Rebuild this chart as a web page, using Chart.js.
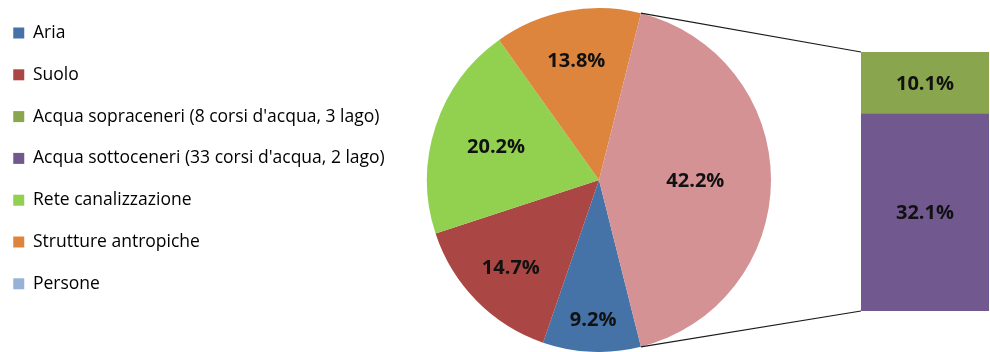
<!DOCTYPE html>
<html>
<head>
<meta charset="utf-8">
<script src="https://cdn.jsdelivr.net/npm/chart.js@4.4.1/dist/chart.umd.min.js"></script>
<style>
  body { margin: 0; background: #fff; }
  #wrap { position: relative; width: 990px; height: 352px; }
  #wrap canvas { position: absolute; left: 0; top: 0; }
</style>
</head>
<body>
<div id="wrap">
  <canvas id="pieChart" width="990" height="352"></canvas>
  <canvas id="barChart" width="990" height="352"></canvas>
</div>
<script>
// pie slices (clockwise after the split-off slice), values in %
const pieLabels = ['Aria', 'Suolo', 'Rete canalizzazione', 'Strutture antropiche', 'Persone'];
const pieValues = [9.2, 14.7, 20.2, 13.8, 0];
const pieColors = ['#4572A7', '#AA4643', '#92D050', '#DD843D', '#95B3D7'];

// water samples, shown in the stacked bar on the right
const barLabels = ["Acqua sopraceneri (8 corsi d'acqua, 3 lago)", "Acqua sottoceneri (33 corsi d'acqua, 2 lago)"];
const barValues = [10.1, 32.1];
const barColors = ['#89A54E', '#71588F'];

// legend order
const legendLabels = ['Aria', 'Suolo', barLabels[0], barLabels[1], 'Rete canalizzazione', 'Strutture antropiche', 'Persone'];
const legendColors = ['#4572A7', '#AA4643', '#89A54E', '#71588F', '#92D050', '#DD843D', '#95B3D7'];

const otherValue = barValues[0] + barValues[1];
const otherColor = '#D49294';

const allValues = pieValues.concat([otherValue]);
const total = allValues.reduce((a, b) => a + b, 0);
const before = pieValues.reduce((a, b) => a + b, 0);
// turn the pie so the water slice faces the bar
const rotation = 90 - (before + otherValue / 2) / total * 360;

const fmt = v => v.toFixed(1) + '%';
const labelFont = 'bold 20px "Open Sans"';

// radial position of each pie label (fraction of radius)
const labelRadius = [0.81, 0.72, 0.63, 0.71, 0.7, 0.56];

const pieLabelPlugin = {
  id: 'pieLabels',
  afterDatasetsDraw(chart) {
    const ctx = chart.ctx;
    const meta = chart.getDatasetMeta(0);
    ctx.save();
    ctx.font = labelFont;
    ctx.fillStyle = '#111';
    ctx.textAlign = 'center';
    ctx.textBaseline = 'middle';
    meta.data.forEach((arc, i) => {
      const v = allValues[i];
      if (!v) return;
      const a = (arc.startAngle + arc.endAngle) / 2;
      const r = arc.outerRadius * labelRadius[i];
      ctx.fillText(fmt(v), arc.x + Math.cos(a) * r, arc.y + Math.sin(a) * r + 1);
    });
    ctx.restore();
  }
};

const pieChart = new Chart(document.getElementById('pieChart'), {
  type: 'pie',
  data: {
    labels: pieLabels.concat(['Acqua']),
    datasets: [{
      data: allValues,
      backgroundColor: pieColors.concat([otherColor]),
      borderWidth: 0
    }]
  },
  options: {
    responsive: false,
    animation: false,
    events: [],
    rotation: rotation,
    layout: { padding: { left: -3, top: 8, bottom: -2, right: 184 } },
    plugins: {
      tooltip: { enabled: false },
      legend: {
        position: 'left',
        align: 'start',
        maxWidth: 395,
        labels: {
          boxWidth: 11,
          boxHeight: 11,
          padding: 16.25,
          color: '#1a1a1a',
          font: { family: '"Open Sans"', size: 17.5, lineHeight: 1.46 },
          generateLabels: () => legendLabels.map((t, i) => ({
            text: [t],
            fillStyle: legendColors[i],
            strokeStyle: legendColors[i],
            lineWidth: 0,
            hidden: false,
            index: i
          }))
        }
      }
    }
  },
  plugins: [pieLabelPlugin]
});

// bar values + lines joining the split slice to the bar
const barExtras = {
  id: 'barExtras',
  afterDatasetsDraw(chart) {
    const ctx = chart.ctx;
    ctx.save();
    ctx.font = labelFont;
    ctx.fillStyle = '#111';
    ctx.textAlign = 'center';
    ctx.textBaseline = 'middle';
    chart.data.datasets.forEach((ds, d) => {
      chart.getDatasetMeta(d).data.forEach((bar, i) => {
        const p = bar.getCenterPoint();
        ctx.fillText(fmt(ds.data[i]), p.x, p.y + 1);
      });
    });

    const arcs = pieChart.getDatasetMeta(0).data;
    const arc = arcs[arcs.length - 1];
    const low = chart.getDatasetMeta(0).data[0];
    const high = chart.getDatasetMeta(1).data[0];
    const left = low.x - low.width / 2;
    ctx.strokeStyle = '#1a1a1a';
    ctx.lineWidth = 1.2;
    ctx.beginPath();
    ctx.moveTo(arc.x + Math.cos(arc.startAngle) * arc.outerRadius, arc.y + Math.sin(arc.startAngle) * arc.outerRadius);
    ctx.lineTo(left, high.y);
    ctx.moveTo(arc.x + Math.cos(arc.endAngle) * arc.outerRadius, arc.y + Math.sin(arc.endAngle) * arc.outerRadius);
    ctx.lineTo(left, low.base);
    ctx.stroke();
    ctx.restore();
  }
};

new Chart(document.getElementById('barChart'), {
  type: 'bar',
  data: {
    labels: [''],
    datasets: [
      { label: barLabels[1], data: [barValues[1]], backgroundColor: barColors[1] },
      { label: barLabels[0], data: [barValues[0]], backgroundColor: barColors[0] }
    ]
  },
  options: {
    responsive: false,
    animation: false,
    events: [],
    layout: { padding: { left: 861, right: 1, top: 52, bottom: 41 } },
    datasets: { bar: { barPercentage: 1, categoryPercentage: 1 } },
    plugins: { legend: { display: false }, tooltip: { enabled: false } },
    scales: {
      x: { display: false, stacked: true },
      y: { display: false, stacked: true, min: 0, max: otherValue }
    }
  },
  plugins: [barExtras]
});
</script>
</body>
</html>
